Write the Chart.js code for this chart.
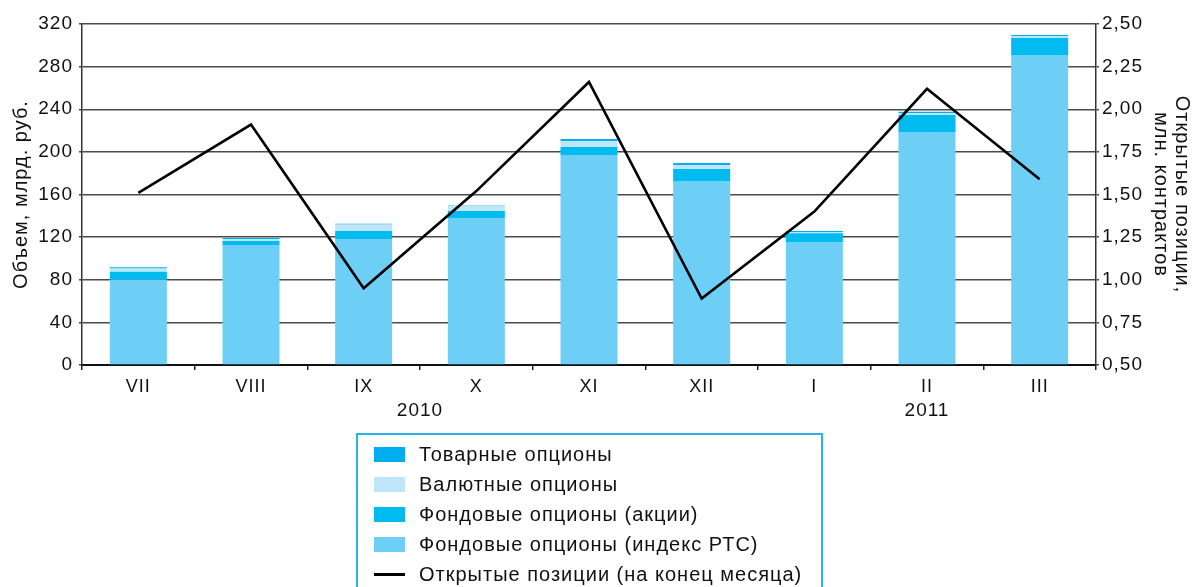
<!DOCTYPE html>
<html>
<head>
<meta charset="utf-8">
<script src="https://cdn.jsdelivr.net/npm/chart.js@4.4.1/dist/chart.umd.min.js"></script>
<style>
  html, body { margin: 0; padding: 0; background: #fff; }
  #wrap { position: relative; width: 1201px; height: 587px; overflow: hidden; }
  #chart { position: absolute; left: 0; top: 0; }
  #legend {
    position: absolute; left: 356px; top: 433px; width: 467px; height: 180px;
    border: 2px solid #29b3ea; box-sizing: border-box;
    font-family: "Liberation Sans", Arial, sans-serif; font-size: 20px; letter-spacing: 1px; color: #111;
    padding-top: 4px;
  }
  .item { height: 30px; display: flex; align-items: center; }
  .sw { width: 31px; height: 15px; margin-left: 16px; margin-right: 14px; }
  .ln { width: 31px; height: 3px; background: #000; margin-left: 16px; margin-right: 14px; }
</style>
</head>
<body>
<div id="wrap">
  <canvas id="chart" width="1201" height="587"></canvas>
  <div id="legend"></div>
</div>
<script>
/* ==========================================
   DATA
========================================== */

const months = ["VII", "VIII", "IX", "X", "XI", "XII", "I", "II", "III"];

const years = [
  { label: "2010", from: 0, to: 5 },
  { label: "2011", from: 6, to: 8 }
];

// млрд. руб.
const indexRts  = [80, 112.6, 118.2, 138, 197, 172.7, 115.4, 218.7, 290.9];
const stocks    = [7.5, 3.8, 7.5, 6.5, 7.6, 11.2, 8.2, 15.9, 16];
const currency  = [3, 1.8, 6.2, 5.2, 5.6, 3.8, 1.2, 1.9, 1.8];
const commodity = [1.2, 1.0, 0.7, 0.5, 1.9, 1.9, 1.0, 1.2, 1.0];

// млн. контрактов
const openPositions = [1.51, 1.91, 0.95, 1.52, 2.16, 0.89, 1.40, 2.12, 1.59];

const leftTicks = [0, 40, 80, 120, 160, 200, 240, 280, 320];
const rightTicks = [0.5, 0.75, 1.0, 1.25, 1.5, 1.75, 2.0, 2.25, 2.5];

/* ==========================================
   CHART
========================================== */

const FONT = "'Liberation Sans', Arial, sans-serif";

Chart.defaults.font.family = FONT;
Chart.defaults.color = "#111";

/* wider lettering, like the original typeface */
const spacing = {
  id: "spacing",
  beforeLayout(chart) { chart.ctx.letterSpacing = "1px"; },
  beforeDraw(chart) { chart.ctx.letterSpacing = "1px"; }
};

const yearLabels = {
  id: "yearLabels",
  afterDraw(chart) {
    const x = chart.scales.x;
    const ctx = chart.ctx;
    ctx.save();
    ctx.font = "19px " + FONT;
    ctx.fillStyle = "#111";
    ctx.textAlign = "center";
    ctx.textBaseline = "middle";
    years.forEach((y) => {
      const cx = (x.getPixelForValue(y.from) + x.getPixelForValue(y.to)) / 2;
      ctx.fillText(y.label, cx, 411);
    });
    ctx.restore();
  }
};

const barCommon = { stack: "v", yAxisID: "y", order: 1, barPercentage: 0.506, categoryPercentage: 1.0 };

const chart = new Chart(document.getElementById("chart"), {
  type: "bar",
  data: {
    labels: months,
    datasets: [
      Object.assign({ label: "Фондовые опционы (индекс РТС)", data: indexRts, backgroundColor: "#6dcff6" }, barCommon),
      Object.assign({ label: "Фондовые опционы (акции)", data: stocks, backgroundColor: "#00bbf0" }, barCommon),
      Object.assign({ label: "Валютные опционы", data: currency, backgroundColor: "#bfe6f8" }, barCommon),
      Object.assign({ label: "Товарные опционы", data: commodity, backgroundColor: "#00aeef" }, barCommon),
      {
        type: "line",
        label: "Открытые позиции (на конец месяца)",
        data: openPositions,
        yAxisID: "y1",
        order: 0,
        borderColor: "#000",
        borderWidth: 2.6,
        pointRadius: 0,
        tension: 0,
        fill: false
      }
    ]
  },
  options: {
    responsive: false,
    animation: false,
    events: [],
    layout: { padding: { top: 24, left: 0, right: 0, bottom: 0 } },
    plugins: {
      legend: { display: false },
      tooltip: { enabled: false }
    },
    scales: {
      x: {
        stacked: true,
        afterFit(s) { s.height = 222; },
        grid: { display: true, offset: true, drawOnChartArea: false, tickLength: 5, color: "#222", lineWidth: 1.5 },
        border: { color: "#111", width: 2 },
        ticks: { font: { size: 18 }, padding: 6, color: "#111" }
      },
      y: {
        stacked: true,
        position: "left",
        min: 0,
        max: 320,
        afterFit(s) { s.width = 82; },
        afterBuildTicks(s) { s.ticks = leftTicks.map((v) => ({ value: v })); },
        grid: { color: "#4a4a4a", lineWidth: 1.5, tickLength: 3 },
        border: { color: "#333", width: 1.5 },
        ticks: { font: { size: 19 }, padding: 6, color: "#111" },
        title: {
          display: true,
          text: "Объем, млрд. руб.",
          font: { size: 20, lineHeight: 1.25 },
          padding: { top: 9 },
          color: "#111"
        }
      },
      y1: {
        position: "right",
        min: 0.5,
        max: 2.5,
        afterFit(s) { s.width = 105; },
        afterBuildTicks(s) { s.ticks = rightTicks.map((v) => ({ value: v })); },
        grid: { drawOnChartArea: false, color: "#4a4a4a", lineWidth: 1.5, tickLength: 3 },
        border: { color: "#333", width: 1.5 },
        ticks: {
          font: { size: 19 },
          padding: 3,
          color: "#111",
          callback: (v) => v.toFixed(2).replace(".", ",")
        },
        title: {
          display: true,
          text: ["Открытые позиции,", "млн. контрактов"],
          font: { size: 20, lineHeight: 1.05 },
          padding: { top: 9 },
          color: "#111"
        }
      }
    }
  },
  plugins: [spacing, yearLabels]
});

/* ==========================================
   LEGEND (built from datasets)
========================================== */

const legend = document.getElementById("legend");
const bars = chart.data.datasets.filter((d) => d.type !== "line").reverse();
const lines = chart.data.datasets.filter((d) => d.type === "line");

bars.concat(lines).forEach((ds) => {
  const row = document.createElement("div");
  row.className = "item";
  const mark = document.createElement("span");
  if (ds.type === "line") {
    mark.className = "ln";
  } else {
    mark.className = "sw";
    mark.style.background = ds.backgroundColor;
  }
  const txt = document.createElement("span");
  txt.textContent = ds.label;
  row.appendChild(mark);
  row.appendChild(txt);
  legend.appendChild(row);
});
</script>
</body>
</html>
